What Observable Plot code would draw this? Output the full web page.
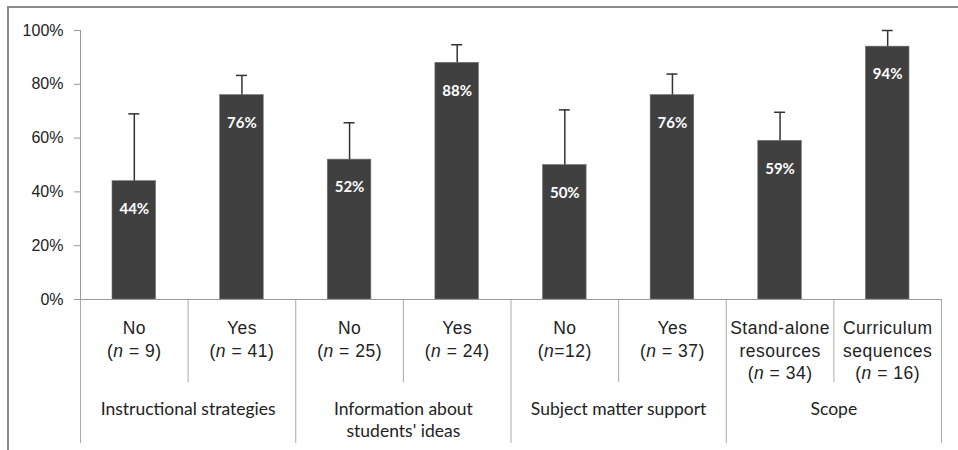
<!DOCTYPE html>
<html><head><meta charset="utf-8">
<script src="https://cdn.jsdelivr.net/npm/d3@7"></script>
<script src="https://cdn.jsdelivr.net/npm/@observablehq/plot@0.6"></script>
<style>
body{margin:0;background:#fff;}
#wrap{position:relative;width:958px;height:450px;overflow:hidden;background:#fff;}
#chart{position:absolute;left:0;top:0;}
#frame{position:absolute;left:7px;top:6px;width:1000px;height:500px;border-left:2px solid #8a8a8a;border-top:2px solid #8a8a8a;}
.catlab text{letter-spacing:0.5px;}
</style></head><body>
<div id="wrap"><div id="chart"></div><div id="frame"></div></div>
<script>
const categories = ["No\n(n = 9)", "Yes\n(n = 41)", "No\n(n = 25)", "Yes\n(n = 24)", "No\n(n=12)", "Yes\n(n = 37)", "Stand-alone\nresources\n(n = 34)", "Curriculum\nsequences\n(n = 16)"];
const percents = [44, 76, 52, 88, 50, 76, 59, 94];
const errorUpper = [69, 83.3, 65.7, 94.7, 70.5, 83.8, 69.6, 100];
const groups = ["Instructional strategies", "Information about\nstudents' ideas", "Subject matter support", "Scope"];
const yTicks = [0, 20, 40, 60, 80, 100];

const W = 958, H = 450, mt = 30, mb = 151, ml = 80, mr = 17;
const plotH = H - mt - mb;
const pxToUnits = px => -px * 100 / plotH;

const data = categories.map((label, i) => ({i, label, value: percents[i], upper: errorUpper[i]}));
const bounds = d3.range(0, categories.length + 1).map(b => ({b, long: b % 2 === 0}));
const groupRows = groups.map((g, k) => ({g, k}));

const plot = Plot.plot({
  width: W, height: H,
  marginTop: mt, marginBottom: mb, marginLeft: ml, marginRight: mr,
  style: {background: "transparent", overflow: "visible"},
  x: {domain: [0, categories.length], axis: null},
  y: {domain: [0, 100]},
  marks: [
    Plot.axisY({ticks: yTicks, tickFormat: d => d + "%", tickSize: 6, tickPadding: 11,
      fontSize: 16, fontFamily: "Liberation Sans, Arial, sans-serif", fill: "#222", stroke: "#999", label: null}),
    Plot.ruleX([0], {stroke: "#999"}),
    Plot.ruleX(bounds, {x: "b", y1: 0, y2: d => pxToUnits(d.long ? 144 : 83), stroke: "#aaa"}),
    Plot.rectY(data, {x1: d => d.i, x2: d => d.i + 1, y: "value", insetLeft: 32, insetRight: 32,
      fill: "#404040", stroke: "#777", strokeWidth: 0.6}),
    Plot.ruleY([0], {stroke: "#999"}),
    Plot.ruleX(data, {x: d => d.i + 0.5, y1: "value", y2: "upper", stroke: "#333", strokeWidth: 1.5}),
    Plot.ruleY(data, {y: "upper", x1: d => d.i + 0.5, x2: d => d.i + 0.5, insetLeft: -5.5, insetRight: -5.5,
      stroke: "#333", strokeWidth: 1.5}),
    Plot.text(data, {x: d => d.i + 0.5, y: "value", text: d => d.value + "%", dy: 28,
      fill: "white", fontWeight: "bold", fontSize: 15, fontFamily: "Lato, sans-serif"}),
    Plot.text(data, {x: d => d.i + 0.5, y: 0, text: "label", lineAnchor: "top", dy: 19,
      fontSize: 17.5, lineHeight: 1.28, fontFamily: "Liberation Sans, Arial, sans-serif", fill: "#222", className: "catlab"}),
    Plot.text(groupRows, {x: d => 2 * d.k + 1, y: 0, text: "g", lineAnchor: "top", dy: 100,
      fontSize: 17.5, lineHeight: 1.26, fontFamily: "Lato, sans-serif", fill: "#222"})
  ]
});
document.getElementById("chart").appendChild(plot);

// italicize the "n" in sample-size labels
const NS = "http://www.w3.org/2000/svg";
plot.querySelectorAll("text, tspan").forEach(el => {
  if (el.children.length) return;
  const t = el.textContent;
  const m = t.match(/^\((n)(.*)$/);
  if (!m) return;
  el.textContent = "(";
  const it = document.createElementNS(NS, "tspan");
  it.setAttribute("font-style", "italic");
  it.textContent = "n";
  el.appendChild(it);
  const rest = document.createElementNS(NS, "tspan");
  rest.textContent = m[2];
  el.appendChild(rest);
});
</script>
</body></html>
